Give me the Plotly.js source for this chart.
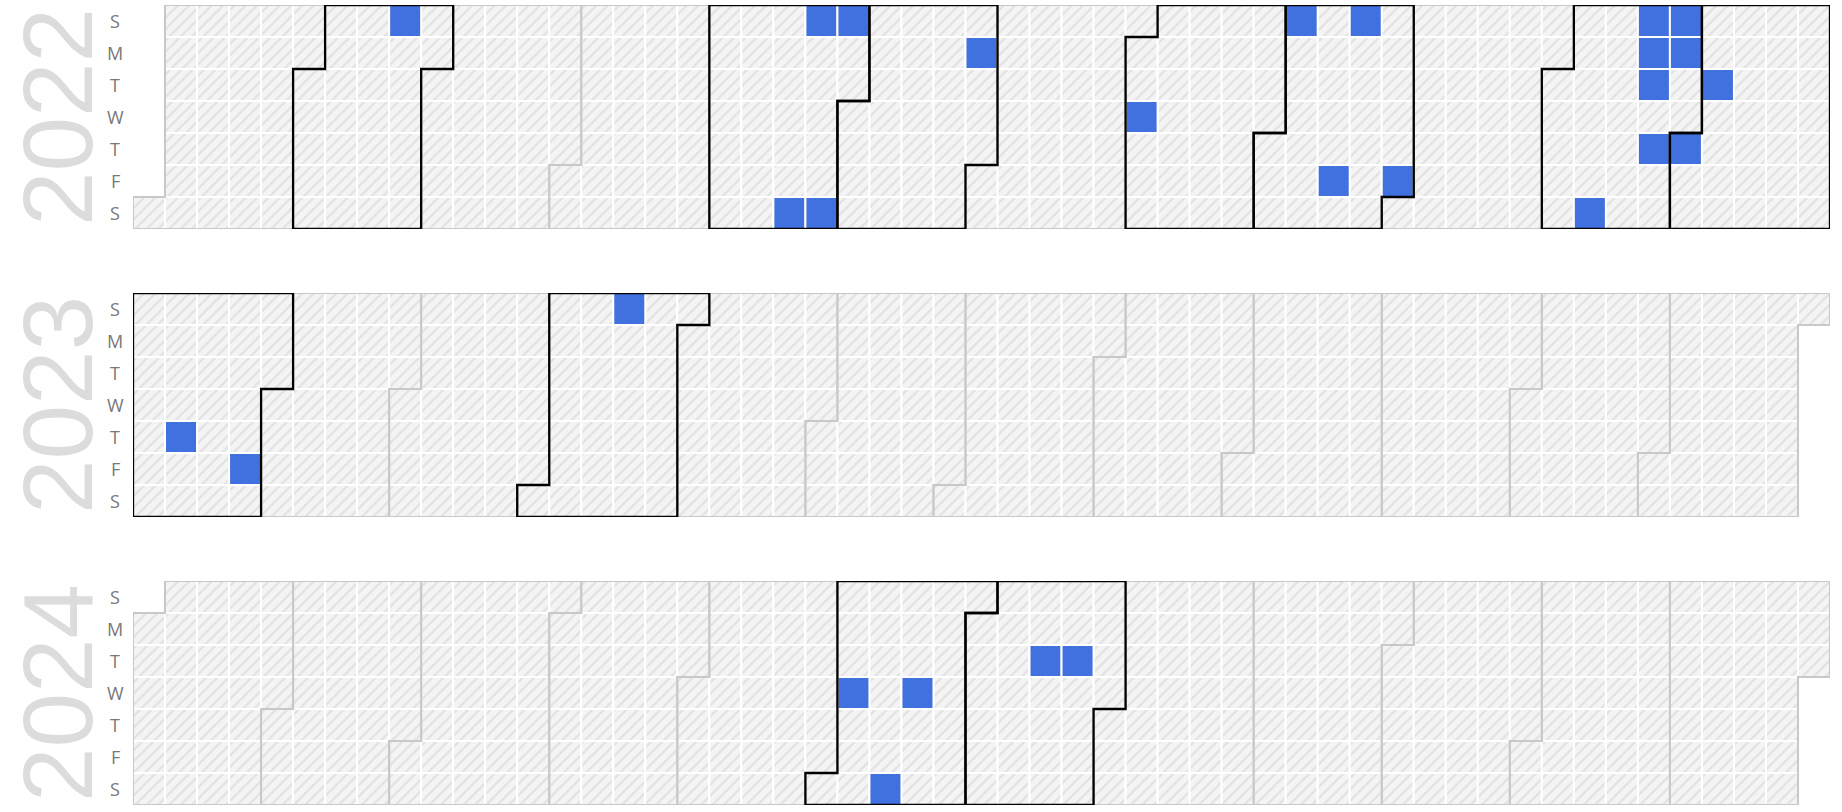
<!DOCTYPE html>
<html>
<head>
<meta charset="utf-8">
<script src="https://cdn.plot.ly/plotly-3.0.1.min.js"></script>
<style>
html, body { margin: 0; padding: 0; background: #ffffff; }
#chart { width: 1842px; height: 812px; }
</style>
</head>
<body>
<div id="chart"></div>
<script>
// ---------------- data ----------------
const years = [2022, 2023, 2024];
const events2022 = [
  '2022-02-20',
  '2022-05-21', '2022-05-22', '2022-05-28', '2022-05-29',
  '2022-06-27',
  '2022-08-03',
  '2022-09-04', '2022-09-16', '2022-09-18', '2022-09-30',
  '2022-11-12', '2022-11-20', '2022-11-21', '2022-11-22', '2022-11-24',
  '2022-11-27', '2022-11-28',
  '2022-12-01', '2022-12-06'
];
const events2023 = ['2023-01-12', '2023-01-27', '2023-04-16'];
const events2024 = ['2024-06-05', '2024-06-15', '2024-06-19', '2024-07-16', '2024-07-23'];
const dayLabels = ['S', 'M', 'T', 'W', 'T', 'F', 'S'];

// ---------------- layout constants ----------------
const W = 1842, H = 812;
const panelTops = [5, 293, 581];
const panelH = 224;
const gridLeft = 133, gridRight = 1830;
const eventsByYear = [events2022, events2023, events2024];

const DAY = 86400000;
function cell(year, t) {
  const jan1 = Date.UTC(year, 0, 1);
  const off = new Date(jan1).getUTCDay();
  const i = Math.round((t - jan1) / DAY);
  const k = i + off;
  return { col: Math.floor(k / 7), row: k % 7 };
}
function parse(s) {
  const p = s.split('-').map(Number);
  return Date.UTC(p[0], p[1] - 1, p[2]);
}

const traces = [];
const shapes = [];
const annotations = [];
const layout = {
  width: W, height: H,
  margin: { l: 0, r: 0, t: 0, b: 0 },
  paper_bgcolor: '#ffffff',
  plot_bgcolor: 'rgba(0,0,0,0)',
  barmode: 'overlay',
  showlegend: false,
  hovermode: false,
  font: { family: 'Open Sans, Noto Sans, sans-serif' }
};

years.forEach((year, idx) => {
  const n = idx === 0 ? '' : String(idx + 1);
  const xa = 'x' + n, ya = 'y' + n;
  const top = panelTops[idx];
  layout['xaxis' + n] = {
    domain: [gridLeft / W, gridRight / W],
    range: [0, 53], autorange: false,
    showgrid: false, zeroline: false, showticklabels: false, showline: false,
    anchor: ya, fixedrange: true
  };
  layout['yaxis' + n] = {
    domain: [1 - (top + panelH) / H, 1 - top / H],
    range: [7, 0], autorange: false,
    showgrid: false, zeroline: false, showticklabels: false, showline: false,
    anchor: xa, fixedrange: true
  };

  // all days of the year
  const bx = [], bb = [], by = [];
  const start = Date.UTC(year, 0, 1), end = Date.UTC(year + 1, 0, 1);
  for (let t = start; t < end; t += DAY) {
    const c = cell(year, t);
    bx.push(c.col + 0.5); bb.push(c.row); by.push(1);
  }
  traces.push({
    type: 'bar', x: bx, y: by, base: bb, width: 1,
    xaxis: xa, yaxis: ya,
    marker: {
      color: '#f4f4f4',
      line: { color: '#ffffff', width: 2 },
      pattern: { shape: '/', fillmode: 'overlay', bgcolor: '#f4f4f4', fgcolor: '#d0d0d0', size: 8, solidity: 0.28 }
    },
    hoverinfo: 'skip'
  });

  // event days
  const ex = [], eb = [], ey = [];
  const months = new Set();
  eventsByYear[idx].forEach(s => {
    const t = parse(s);
    const c = cell(year, t);
    ex.push(c.col + 0.5); eb.push(c.row); ey.push(1);
    months.add(new Date(t).getUTCMonth());
  });
  traces.push({
    type: 'bar', x: ex, y: ey, base: eb, width: 1,
    xaxis: xa, yaxis: ya,
    marker: { color: '#4170df', line: { color: '#ffffff', width: 2 } },
    hoverinfo: 'skip'
  });

  // month outlines
  const grey = [], black = [];
  for (let m = 0; m < 12; m++) {
    const f = cell(year, Date.UTC(year, m, 1));
    const l = cell(year, Date.UTC(year, m + 1, 1) - DAY);
    const c1 = f.col, r1 = f.row, c2 = l.col, r2 = l.row;
    const path = `M${c1},${r1} L${c1 + 1},${r1} L${c1 + 1},0 L${c2 + 1},0 L${c2 + 1},${r2 + 1} L${c2},${r2 + 1} L${c2},7 L${c1},7 Z`;
    const shp = { type: 'path', path: path, xref: xa, yref: ya, layer: 'above', fillcolor: 'rgba(0,0,0,0)' };
    if (months.has(m)) black.push(Object.assign(shp, { line: { color: '#000000', width: 2.3 } }));
    else grey.push(Object.assign(shp, { line: { color: '#c8c8c8', width: 2 } }));
  }
  grey.forEach(s => shapes.push(s));
  black.forEach(s => shapes.push(s));

  // day-of-week labels
  dayLabels.forEach((d, r) => {
    annotations.push({
      text: d, xref: 'paper', yref: ya, x: 115 / W, y: r + 0.5,
      xanchor: 'center', yanchor: 'middle', showarrow: false,
      font: { size: 18, color: '#787878', family: 'Open Sans, Noto Sans, sans-serif' }
    });
  });

  // year label
  annotations.push({
    text: String(year), xref: 'paper', yref: 'paper',
    x: 58 / W, y: 1 - (top + panelH / 2) / H,
    xanchor: 'center', yanchor: 'middle', textangle: -90, showarrow: false,
    borderpad: 0,
    font: { size: 98, color: '#dcdcdc', family: 'Liberation Sans, Arial, sans-serif' }
  });
});

layout.shapes = shapes;
layout.annotations = annotations;

Plotly.newPlot('chart', traces, layout, { displayModeBar: false, staticPlot: true });
</script>
</body>
</html>
